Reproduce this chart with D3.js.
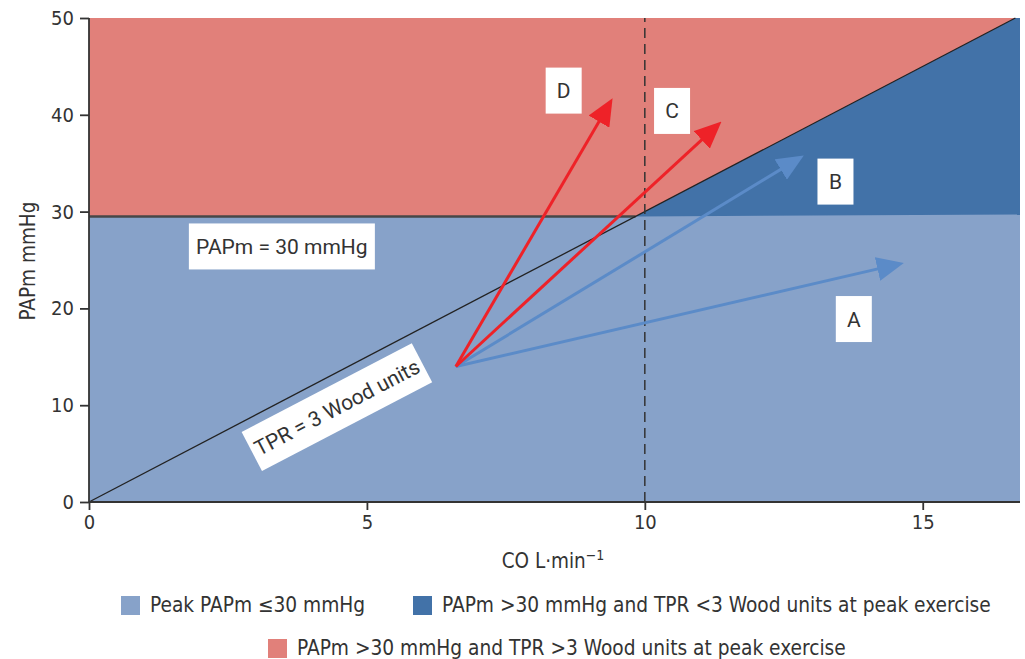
<!DOCTYPE html>
<html>
<head>
<meta charset="utf-8">
<script src="https://cdn.jsdelivr.net/npm/d3@7"></script>
<style>
  body { margin: 0; background: #fff; }
  svg { display: block; }
  .tick text, .axis-label, .legend text { font-family: "Liberation Sans Narrow", "DejaVu Sans Condensed", Roboto, sans-serif; fill: #333; }
  .note text { font-family: Roboto, sans-serif; fill: #333; }
</style>
</head>
<body>
<svg></svg>
<script>
const width = 1025;
const height = 659;
const margin = { top: 18, right: 5, bottom: 157, left: 89 };

// axes
const xMax = 16.75;
const yMax = 50;
const xTicks = [0, 5, 10, 15];
const yTicks = [0, 10, 20, 30, 40, 50];

// thresholds
const papmLimit = 29.5;      // PAPm = 30 mmHg line as drawn
const papmLimitRight = 29.7; // lower edge of dark zone at right border
const tprSlope = 3;          // TPR = 3 Wood units
const coMark = 10;

// arrows: common start, tips
const arrowStart = [6.6, 14];
const arrowNames = ['A', 'B', 'C', 'D'];
const arrowTipX = [14.66, 12.86, 11.38, 9.42];
const arrowTipY = [24.7, 35.8, 39.3, 41.7];
const arrowGroup = ['blue', 'blue', 'red', 'red'];
const labelX = [13.76, 13.43, 10.49, 8.54];
const labelY = [18.9, 33.1, 40.4, 42.5];

// legend
const legendNames = ['Peak PAPm \u226430 mmHg', 'PAPm >30 mmHg and TPR <3 Wood units at peak exercise', 'PAPm >30 mmHg and TPR >3 Wood units at peak exercise'];
const legendColors = ['#87a2c9', '#4272a8', '#e1807a'];

const arrowColors = { blue: '#5b8bc8', red: '#ee2228' };

const svg = d3.select('svg')
    .attr('width', width)
    .attr('height', height)

const x = d3.scaleLinear().domain([0, xMax]).range([margin.left, width - margin.right])
const y = d3.scaleLinear().domain([0, yMax]).range([height - margin.bottom, margin.top])

const line = d3.line().x(d => x(d[0])).y(d => y(d[1]))
const xCross = papmLimit / tprSlope

// regions
svg.append('path')
    .attr('d', line([[0, 0], [xMax, 0], [xMax, yMax], [0, yMax]]) + 'Z')
    .attr('fill', legendColors[0])

svg.append('path')
    .attr('d', line([[0, papmLimit], [xCross, papmLimit], [yMax / tprSlope, yMax], [0, yMax]]) + 'Z')
    .attr('fill', legendColors[2])

svg.append('path')
    .attr('d', line([[xCross, papmLimit], [xMax, papmLimitRight], [xMax, yMax], [yMax / tprSlope, yMax]]) + 'Z')
    .attr('fill', legendColors[1])

// PAPm = 30 line
svg.append('path')
    .attr('d', line([[0, papmLimit], [xCross, papmLimit]]))
    .attr('stroke', '#474747')
    .attr('stroke-width', 2.5)

// TPR line
svg.append('path')
    .attr('d', line([[0, 0], [yMax / tprSlope, yMax]]))
    .attr('stroke', '#222')
    .attr('stroke-width', 1.3)
    .attr('fill', 'none')

// dashed CO = 10
svg.append('path')
    .attr('d', line([[coMark, 0], [coMark, yMax]]))
    .attr('stroke', '#333')
    .attr('stroke-width', 1.5)
    .attr('stroke-dasharray', '10,6')

// arrow heads
const defs = svg.append('defs')
Object.keys(arrowColors).forEach(k => {
    defs.append('marker')
        .attr('id', 'head-' + k)
        .attr('markerUnits', 'userSpaceOnUse')
        .attr('viewBox', '0 0 27 24')
        .attr('refX', 17)
        .attr('refY', 12)
        .attr('markerWidth', 27)
        .attr('markerHeight', 24)
        .attr('orient', 'auto')
        .append('path')
        .attr('d', 'M0,0 L27,12 L0,24 Z')
        .attr('fill', arrowColors[k])
})

const arrows = arrowNames.map((n, i) => ({ name: n, tip: [arrowTipX[i], arrowTipY[i]], group: arrowGroup[i], lx: labelX[i], ly: labelY[i] }))

svg.selectAll('.arrow')
    .data(arrows)
    .enter()
    .append('path')
    .attr('class', 'arrow')
    .attr('d', d => {
        // stop the shaft a little short; the head reaches the tip
        const x0 = x(arrowStart[0]), y0 = y(arrowStart[1])
        const x1 = x(d.tip[0]), y1 = y(d.tip[1])
        const len = Math.hypot(x1 - x0, y1 - y0)
        const k = (len - 10) / len
        return 'M' + x0 + ',' + y0 + 'L' + (x0 + (x1 - x0) * k) + ',' + (y0 + (y1 - y0) * k)
    })
    .attr('stroke', d => arrowColors[d.group])
    .attr('stroke-width', 3)
    .attr('fill', 'none')
    .attr('marker-end', d => 'url(#head-' + d.group + ')')

// letter boxes
const notes = svg.append('g').attr('class', 'note')
const letter = notes.selectAll('.letter')
    .data(arrows)
    .enter().append('g')
    .attr('transform', d => 'translate(' + x(d.lx) + ',' + y(d.ly) + ')')

letter.append('rect')
    .attr('x', -18)
    .attr('y', -23)
    .attr('width', 36)
    .attr('height', 46)
    .attr('fill', '#fff')

letter.append('text')
    .attr('text-anchor', 'middle')
    .attr('dy', '0.36em')
    .style('font-size', '21px')
    .text(d => d.name)

// PAPm = 30 mmHg box
const papmNote = notes.append('g')
    .attr('transform', 'translate(' + x(3.47) + ',' + y(26.4) + ')')
papmNote.append('rect')
    .attr('x', -93).attr('y', -23).attr('width', 186).attr('height', 46)
    .attr('fill', '#fff')
papmNote.append('text')
    .attr('text-anchor', 'middle')
    .attr('dy', '0.36em')
    .style('font-size', '21px')
    .text('PAPm = 30 mmHg')

// TPR box, rotated along the line
const angle = Math.atan2(y(0) - y(tprSlope), x(1) - x(0)) * 180 / Math.PI
const tprNote = notes.append('g')
    .attr('transform', 'translate(' + x(4.46) + ',' + y(9.8) + ') rotate(' + (-angle) + ')')
tprNote.append('rect')
    .attr('x', -96).attr('y', -22).attr('width', 192).attr('height', 44)
    .attr('fill', '#fff')
tprNote.append('text')
    .attr('text-anchor', 'middle')
    .attr('dy', '0.36em')
    .style('font-size', '21px')
    .text('TPR = 3 Wood units')

// axes
const xAxis = d3.axisBottom(x).tickValues(xTicks).tickSize(8).tickPadding(5)
const yAxis = d3.axisLeft(y).tickValues(yTicks).tickSize(9).tickPadding(6)

svg.append('g')
    .attr('transform', 'translate(0,' + y(0) + ')')
    .call(xAxis)
    .call(g => g.select('.domain').attr('d', 'M' + x(0) + ',0H' + x(xMax)))

svg.append('g')
    .attr('transform', 'translate(' + x(0) + ',0)')
    .call(yAxis)
    .call(g => g.select('.domain').attr('d', 'M0,' + y(0) + 'V' + y(yMax)))

svg.selectAll('.domain, .tick line')
    .attr('stroke', '#333')
    .attr('stroke-width', 1.8)
svg.selectAll('.tick text')
    .style('font-size', '20px')

// axis titles
svg.append('text')
    .attr('class', 'axis-label')
    .attr('transform', 'translate(35,' + 261 + ') rotate(-90)')
    .attr('text-anchor', 'middle')
    .style('font-size', '20.5px')
    .text('PAPm mmHg')

const xLab = svg.append('text')
    .attr('class', 'axis-label')
    .attr('x', 553)
    .attr('y', 568)
    .attr('text-anchor', 'middle')
    .style('font-size', '20.5px')
xLab.append('tspan').text('CO L\u00b7min')
xLab.append('tspan').attr('dy', -8).style('font-size', '14px').text('\u22121')

// legend
const legendPos = [[121, 605], [413, 605], [268, 648]]
const legend = svg.append('g').attr('class', 'legend')
    .selectAll('g')
    .data(legendNames)
    .enter().append('g')
    .attr('transform', (d, i) => 'translate(' + legendPos[i][0] + ',' + legendPos[i][1] + ')')

legend.append('rect')
    .attr('x', 0).attr('y', -9).attr('width', 19).attr('height', 19)
    .attr('fill', (d, i) => legendColors[i])

legend.append('text')
    .attr('x', 29)
    .attr('dy', '0.35em')
    .style('font-size', '20.7px')
    .text(d => d)
</script>
</body>
</html>
